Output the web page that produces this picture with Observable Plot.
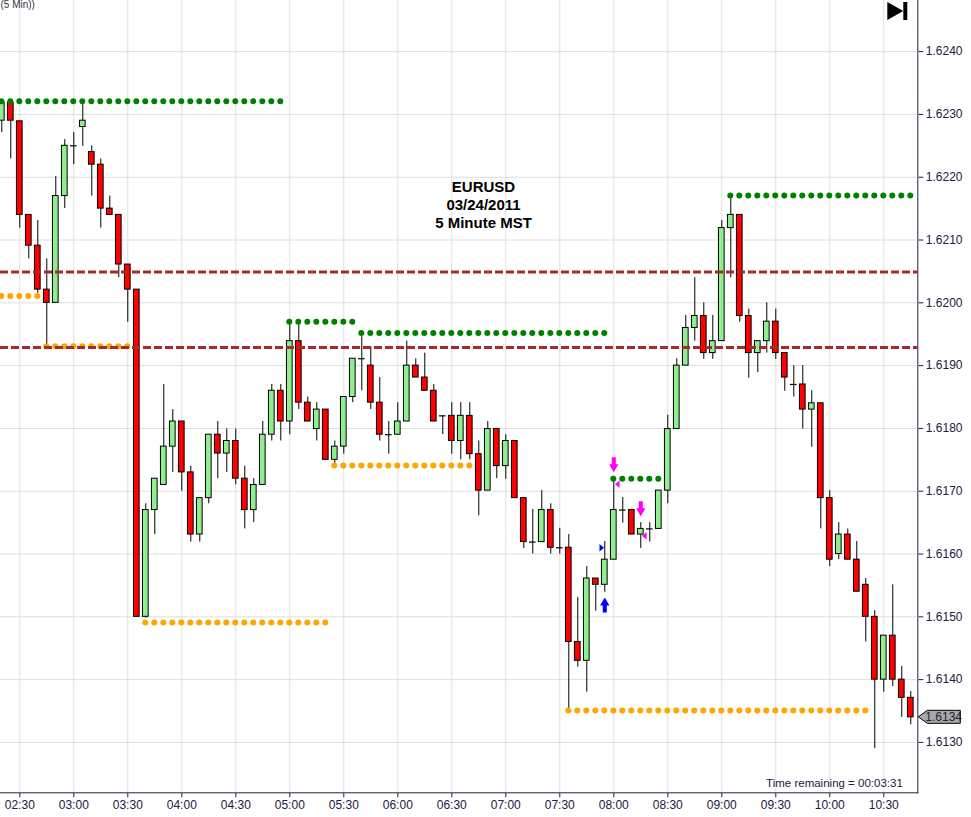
<!DOCTYPE html>
<html>
<head>
<meta charset="utf-8">
<script src="https://cdn.jsdelivr.net/npm/d3@7"></script>
<script src="https://cdn.jsdelivr.net/npm/@observablehq/plot@0.6"></script>
<style>
  html, body { margin: 0; padding: 0; background: white; }
  #chart { width: 971px; height: 817px; overflow: hidden; }
</style>
</head>
<body>
<div id="chart"></div>
<script>
// ---------- data ----------
const times = [
  "02:20","02:25","02:30","02:35","02:40","02:45","02:50","02:55",
  "03:00","03:05","03:10","03:15","03:20","03:25","03:30","03:35","03:40","03:45","03:50","03:55",
  "04:00","04:05","04:10","04:15","04:20","04:25","04:30","04:35","04:40","04:45","04:50","04:55",
  "05:00","05:05","05:10","05:15","05:20","05:25","05:30","05:35","05:40","05:45","05:50","05:55",
  "06:00","06:05","06:10","06:15","06:20","06:25","06:30","06:35","06:40","06:45","06:50","06:55",
  "07:00","07:05","07:10","07:15","07:20","07:25","07:30","07:35","07:40","07:45","07:50","07:55",
  "08:00","08:05","08:10","08:15","08:20","08:25","08:30","08:35","08:40","08:45","08:50","08:55",
  "09:00","09:05","09:10","09:15","09:20","09:25","09:30","09:35","09:40","09:45","09:50","09:55",
  "10:00","10:05","10:10","10:15","10:20","10:25","10:30","10:35","10:40","10:45"
];
const open = [
  1.62290,1.62319,1.62289,1.62140,1.62091,1.62021,1.62000,1.62170,
  1.62250,1.62280,1.62240,1.62220,1.62150,1.62140,1.62061,1.62021,1.61500,1.61670,1.61710,1.61771,
  1.61811,1.61730,1.61631,1.61689,1.61790,1.61760,1.61780,1.61720,1.61670,1.61710,1.61790,1.61860,
  1.61811,1.61939,1.61841,1.61799,1.61830,1.61750,1.61771,1.61850,1.61911,1.61900,1.61841,1.61790,
  1.61790,1.61811,1.61900,1.61881,1.61860,1.61820,1.61820,1.61780,1.61820,1.61759,1.61701,1.61799,
  1.61740,1.61780,1.61689,1.61619,1.61619,1.61670,1.61610,1.61610,1.61460,1.61430,1.61561,1.61551,
  1.61591,1.61670,1.61670,1.61631,1.61640,1.61640,1.61701,1.61799,1.61900,1.61960,1.61979,1.61920,
  1.61939,1.62119,1.62140,1.61979,1.61920,1.61939,1.61970,1.61920,1.61870,1.61870,1.61830,1.61840,
  1.61689,1.61600,1.61631,1.61591,1.61551,1.61500,1.61400,1.61470,1.61400,1.61371
];
const high = [
  1.62321,1.62321,1.62289,1.62140,1.62131,1.62070,1.62201,1.62260,
  1.62271,1.62316,1.62250,1.62229,1.62170,1.62140,1.62061,1.62021,1.61680,1.61720,1.61870,1.61830,
  1.61811,1.61740,1.61689,1.61790,1.61811,1.61799,1.61799,1.61740,1.61720,1.61811,1.61870,1.61870,
  1.61969,1.61969,1.61850,1.61841,1.61830,1.61780,1.61850,1.61911,1.61946,1.61930,1.61881,1.61811,
  1.61841,1.61939,1.61911,1.61920,1.61870,1.61820,1.61841,1.61841,1.61841,1.61780,1.61811,1.61799,
  1.61790,1.61780,1.61689,1.61671,1.61701,1.61680,1.61641,1.61631,1.61531,1.61580,1.61561,1.61620,
  1.61720,1.61690,1.61670,1.61650,1.61650,1.61701,1.61821,1.61911,1.61980,1.62040,1.62000,1.61980,
  1.62131,1.62171,1.62140,1.61990,1.61939,1.62000,1.61990,1.61920,1.61900,1.61900,1.61860,1.61840,
  1.61701,1.61650,1.61640,1.61620,1.61561,1.61510,1.61470,1.61551,1.61421,1.61381
];
const low = [
  1.62271,1.62229,1.62119,1.62070,1.62015,1.61931,1.62000,1.62150,
  1.62220,1.62249,1.62170,1.62119,1.62140,1.62040,1.61969,1.61500,1.61498,1.61631,1.61710,1.61730,
  1.61700,1.61619,1.61619,1.61680,1.61720,1.61730,1.61710,1.61640,1.61650,1.61710,1.61780,1.61780,
  1.61790,1.61830,1.61811,1.61780,1.61750,1.61742,1.61759,1.61841,1.61860,1.61830,1.61780,1.61759,
  1.61790,1.61811,1.61881,1.61860,1.61811,1.61790,1.61759,1.61750,1.61750,1.61661,1.61701,1.61720,
  1.61719,1.61689,1.61609,1.61600,1.61619,1.61600,1.61600,1.61352,1.61420,1.61380,1.61509,1.61539,
  1.61591,1.61649,1.61631,1.61609,1.61619,1.61640,1.61680,1.61799,1.61900,1.61939,1.61910,1.61910,
  1.61939,1.62040,1.61969,1.61880,1.61889,1.61920,1.61910,1.61859,1.61850,1.61799,1.61770,1.61640,
  1.61580,1.61591,1.61591,1.61540,1.61460,1.61290,1.61380,1.61389,1.61340,1.61328
];
const close = [
  1.62319,1.62290,1.62140,1.62091,1.62021,1.62000,1.62170,1.62250,
  1.62250,1.62290,1.62220,1.62150,1.62140,1.62061,1.62021,1.61500,1.61670,1.61720,1.61771,1.61811,
  1.61730,1.61631,1.61689,1.61790,1.61760,1.61780,1.61720,1.61670,1.61710,1.61790,1.61860,1.61811,
  1.61939,1.61841,1.61811,1.61830,1.61750,1.61771,1.61850,1.61911,1.61911,1.61841,1.61790,1.61790,
  1.61811,1.61900,1.61881,1.61860,1.61811,1.61820,1.61780,1.61820,1.61759,1.61701,1.61799,1.61740,
  1.61780,1.61689,1.61619,1.61619,1.61670,1.61610,1.61610,1.61460,1.61430,1.61561,1.61551,1.61591,
  1.61670,1.61670,1.61631,1.61640,1.61640,1.61701,1.61799,1.61900,1.61960,1.61979,1.61920,1.61939,
  1.62119,1.62140,1.61979,1.61920,1.61939,1.61970,1.61920,1.61881,1.61870,1.61830,1.61840,1.61689,
  1.61591,1.61631,1.61591,1.61540,1.61500,1.61400,1.61470,1.61400,1.61371,1.61340
];

// swing high / low dotted levels
const levelStart = ["02:20","02:20","02:45","03:40","05:00","05:25","05:40","07:35","08:00","09:05"];
const levelEnd   = ["04:55","02:40","03:30","05:20","05:35","06:40","07:55","10:20","08:25","10:45"];
const levelPrice = [1.62321,1.62011,1.61931,1.61491,1.61970,1.61741,1.61952,1.61351,1.61720,1.62171];
const levelKind  = ["high","low","low","low","high","low","high","low","high","high"];

// dashed horizontal lines
const dashedPrice = [1.62049, 1.61929];

// signal markers
const signalTime  = ["08:00","08:15","07:55","08:00","08:15","07:55"];
const signalPrice = [1.61742,1.61672,1.61519,1.61711,1.61629,1.61610];
const signalType  = ["down","down","up","left","left","right"];

// axes
const xTickLabels = ["02:30","03:00","03:30","04:00","04:30","05:00","05:30","06:00","06:30",
                     "07:00","07:30","08:00","08:30","09:00","09:30","10:00","10:30"];
const yTicks = [1.6130,1.6140,1.6150,1.6160,1.6170,1.6180,1.6190,1.6200,1.6210,1.6220,1.6230,1.6240];
const xDomainLabels = ["02:19:17","10:48:54"];
const yDomain = [1.612198, 1.624814];

const titleLines = ["EURUSD","03/24/2011","5 Minute MST"];
const remainingText = "Time remaining = 00:03:31";
const topLeftText = "(5 Min))";

// ---------- build ----------
const T = s => { const [h, m, sec] = s.split(":").map(Number); return new Date(Date.UTC(2011, 2, 24, h, m, sec || 0)); };
const bars = times.map((t, i) => ({t: T(t), open: open[i], high: high[i], low: low[i], close: close[i]}));
const levels = levelStart.map((s, i) => ({start: T(s), end: T(levelEnd[i]), price: levelPrice[i], kind: levelKind[i]}));
const signals = signalTime.map((s, i) => ({t: T(s), price: signalPrice[i], type: signalType[i]}));
const xTicks = xTickLabels.map(T);

const HALF = 95000; // half body width (ms)
const up = bars.filter(d => d.close > d.open);
const down = bars.filter(d => d.close < d.open);
const doji = bars.filter(d => d.close === d.open);

const sym = pts => ({draw(ctx, size) {
  const r = Math.sqrt(size / Math.PI);
  pts.forEach(([a, b], i) => i ? ctx.lineTo(a * r, b * r) : ctx.moveTo(a * r, b * r));
  ctx.closePath();
}});
const arrowDownPts = [[-0.27,-1],[0.27,-1],[0.27,-0.07],[0.62,-0.07],[0,1],[-0.62,-0.07],[-0.27,-0.07]];
const arrowDown = sym(arrowDownPts);
const arrowUp = sym(arrowDownPts.map(([a, b]) => [a, -b]));
const triLeft = sym([[-0.6,0],[0.6,-1],[0.6,1]]);
const triRight = sym([[0.6,0],[-0.6,-1],[-0.6,1]]);

const MAGENTA = "#FF00FF", BLUE = "#0000FF";

const plot = Plot.plot({
  width: 971,
  height: 817,
  marginLeft: 0,
  marginRight: 53.7,
  marginTop: 0,
  marginBottom: 24.7,
  style: {fontFamily: "'Liberation Sans', Arial, sans-serif", fontSize: "12px", color: "#202040", background: "white", overflow: "hidden"},
  x: {type: "utc", domain: xDomainLabels.map(T), ticks: xTicks, tickFormat: d3.utcFormat("%H:%M"), tickSize: 5, tickPadding: 3, line: true, label: null},
  y: {domain: yDomain, ticks: yTicks, tickFormat: d3.format(".4f"), axis: "right", tickSize: 5, tickPadding: 3, line: true, label: null},
  marks: [
    Plot.ruleX(xTicks, {stroke: "#dedede", strokeWidth: 1}),
    Plot.ruleY(yTicks, {stroke: "#dedede", strokeWidth: 1}),
    // wicks
    Plot.ruleX(bars, {x: "t", y1: "low", y2: "high", stroke: "black", strokeWidth: 1}),
    // bodies
    Plot.rect(up, {x1: d => new Date(+d.t - HALF), x2: d => new Date(+d.t + HALF), y1: "open", y2: "close", fill: "#90EE90", stroke: "black", strokeWidth: 1}),
    Plot.rect(down, {x1: d => new Date(+d.t - HALF), x2: d => new Date(+d.t + HALF), y1: "open", y2: "close", fill: "#FF0000", stroke: "black", strokeWidth: 1}),
    Plot.ruleY(doji, {y: "open", x1: d => new Date(+d.t - HALF - 15000), x2: d => new Date(+d.t + HALF + 15000), stroke: "black", strokeWidth: 1.2}),
    // dotted swing levels
    Plot.ruleY(levels, {y: "price", x1: "start", x2: d => new Date(+d.end + 30000),
      stroke: d => d.kind === "high" ? "#008000" : "#FFA500",
      strokeWidth: 6, strokeDasharray: "0,9", strokeLinecap: "round"}),
    // dashed lines
    Plot.ruleY(dashedPrice, {stroke: "#A52A2A", strokeWidth: 3, strokeDasharray: "8,3"}),
    // signals
    Plot.dot(signals.filter(d => d.type === "down"), {x: "t", y: "price", r: 7.5, symbol: arrowDown, fill: MAGENTA, stroke: "none"}),
    Plot.dot(signals.filter(d => d.type === "up"), {x: "t", y: "price", r: 7.5, symbol: arrowUp, fill: BLUE, stroke: "none"}),
    Plot.dot(signals.filter(d => d.type === "left"), {x: "t", y: "price", r: 3.8, dx: 3.5, symbol: triLeft, fill: MAGENTA, stroke: "none"}),
    Plot.dot(signals.filter(d => d.type === "right"), {x: "t", y: "price", r: 3.8, dx: -3, symbol: triRight, fill: BLUE, stroke: "none"}),
    // texts
    Plot.text([titleLines.join("\n")], {frameAnchor: "top-left", dx: 483, dy: 178, text: d => d, textAnchor: "middle", lineAnchor: "top", lineHeight: 1.23, fontSize: 15, fontWeight: "bold", fill: "black"}),
    Plot.text([remainingText], {frameAnchor: "bottom-right", dx: -15, dy: -6, text: d => d, textAnchor: "end", lineAnchor: "bottom", fontSize: 11.5, fill: "#202040"}),
    Plot.text([topLeftText], {frameAnchor: "top-left", dx: 0, dy: 0, text: d => d, textAnchor: "start", lineAnchor: "top", fontSize: 10, fill: "#333344"})
  ]
});
document.getElementById("chart").appendChild(plot);

// last price tag on the right axis
const svg = d3.select(plot);
const ys = plot.scale("y"), xs = plot.scale("x");
const lastClose = close[close.length - 1];
const yy = ys.apply(lastClose);
const x0 = xs.range[1];
svg.append("path")
  .attr("d", `M${x0 + 1},${yy} L${x0 + 10},${yy - 6.5} L${x0 + 43},${yy - 6.5} L${x0 + 43},${yy + 6.5} L${x0 + 10},${yy + 6.5} Z`)
  .attr("fill", "#a8a8a8").attr("stroke", "black").attr("stroke-width", 1);
svg.append("text").attr("x", x0 + 8).attr("y", yy + 4.5)
  .attr("text-anchor", "start")
  .attr("font-size", 12).attr("fill", "#202040").text(d3.format(".4f")(lastClose));

// "jump to end" icon top right
const icon = svg.append("g").attr("fill", "black");
icon.append("path").attr("d", `M${x0 - 30},2 L${x0 - 14},11 L${x0 - 30},20 Z`);
icon.append("rect").attr("x", x0 - 14).attr("y", 2).attr("width", 4).attr("height", 18);
</script>
</body>
</html>
